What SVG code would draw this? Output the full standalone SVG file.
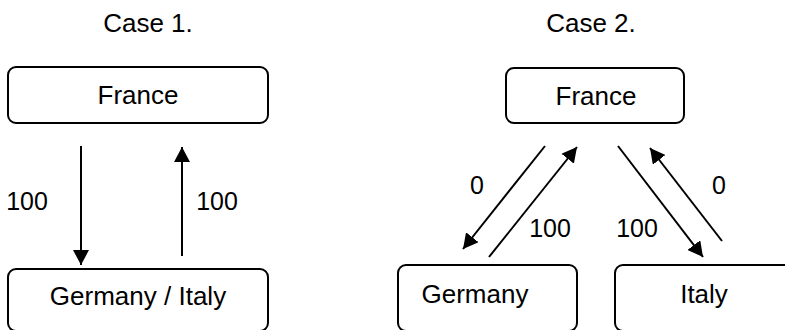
<svg xmlns="http://www.w3.org/2000/svg" width="785" height="330" viewBox="0 0 785 330">
<style>
text{font-family:"Liberation Sans",Arial,sans-serif;font-size:26px;fill:#000;text-anchor:middle}
.lbl{font-size:25px}
.box{fill:#fff;stroke:#000;stroke-width:2}
.conn line{stroke:#000;stroke-width:2}
</style>
<defs>
<marker id="ah" viewBox="0 0 15 16" refX="15" refY="8" markerWidth="15" markerHeight="16" markerUnits="userSpaceOnUse" orient="auto">
<path d="M0,0 L15,8 L0,16 Z" fill="#000"/>
</marker>
</defs>
<rect width="785" height="330" fill="#fff"/>
<text x="148" y="32">Case 1.</text>
<text x="591" y="32">Case 2.</text>
<g id="france1"><rect class="box" x="8" y="67" width="260" height="56" rx="8"/><text x="138" y="104">France</text></g>
<g id="germanyitaly1"><rect class="box" x="8" y="269" width="260" height="62" rx="8"/><text x="138" y="305">Germany / Italy</text></g>
<g id="france2"><rect class="box" x="506" y="68" width="178" height="55" rx="8"/><text x="596" y="105">France</text></g>
<g id="germany2"><rect class="box" x="398" y="265" width="179" height="66" rx="8"/><text x="475" y="303">Germany</text></g>
<g id="italy2"><rect class="box" x="615" y="265" width="179" height="66" rx="8"/><text x="704" y="303">Italy</text></g>
<g class="conn" id="connectors">
<line x1="81" y1="146" x2="81" y2="265" marker-end="url(#ah)"/>
<line x1="182" y1="256" x2="182" y2="147" marker-end="url(#ah)"/>
<line x1="545" y1="146" x2="463" y2="249" marker-end="url(#ah)"/>
<line x1="489" y1="257" x2="577" y2="147" marker-end="url(#ah)"/>
<line x1="618" y1="146" x2="703" y2="257" marker-end="url(#ah)"/>
<line x1="722" y1="241" x2="650" y2="148" marker-end="url(#ah)"/>
</g>
<text class="lbl" x="27" y="210">100</text>
<text class="lbl" x="217" y="210">100</text>
<text class="lbl" x="477" y="194">0</text>
<text class="lbl" x="550" y="237">100</text>
<text class="lbl" x="637" y="237">100</text>
<text class="lbl" x="719" y="194">0</text>
</svg>
